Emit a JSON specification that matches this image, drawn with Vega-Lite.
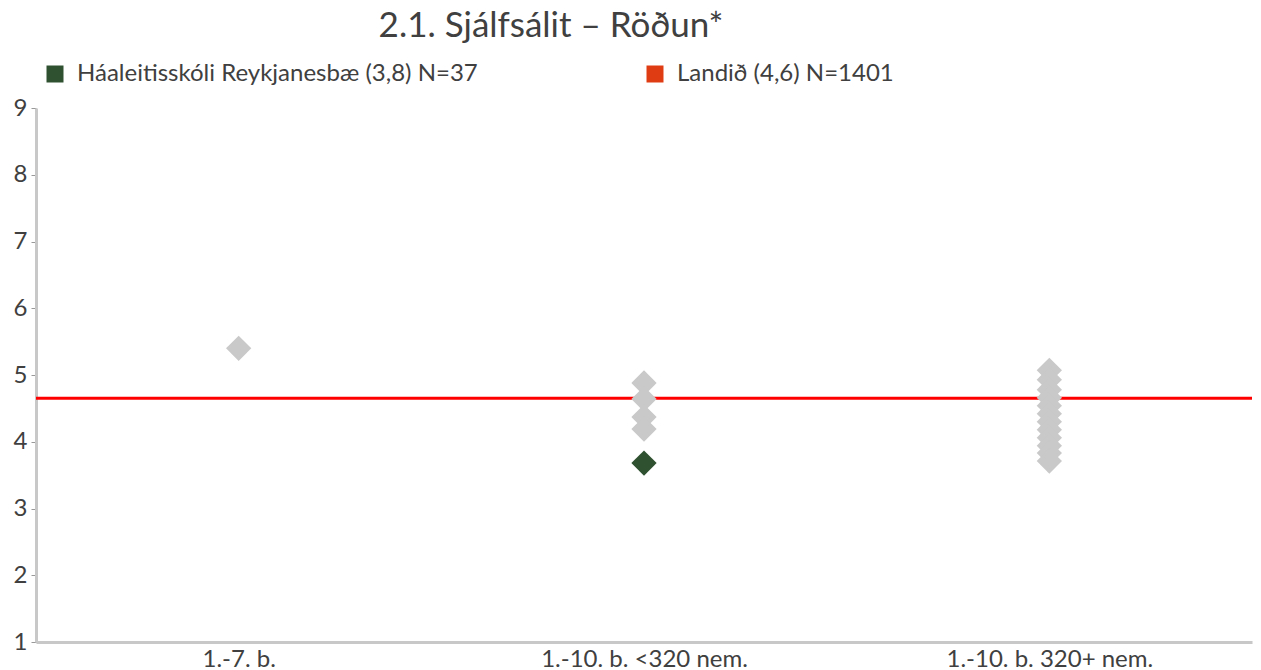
{
  "$schema": "https://vega.github.io/schema/vega-lite/v6.json",
  "autosize": {"type": "none"},
  "width": 1216,
  "height": 534,
  "padding": {"left": 36, "top": 108, "right": 9, "bottom": 28},
  "background": "white",
  "config": {
    "font": "Lato",
    "view": {"stroke": null}
  },
  "title": {
    "text": "2.1. Sjálfsálit – Röðun*",
    "fontSize": 35,
    "fontWeight": "normal",
    "color": "#404040",
    "anchor": "middle",
    "dx": -93,
    "offset": -10,
    "baseline": "alphabetic"
  },
  "datasets": {
    "points": [
      {"flokkur": "1.-7. b.", "gildi": 5.40, "hopur": "annar"},
      {"flokkur": "1.-10. b. <320 nem.", "gildi": 4.88, "hopur": "annar"},
      {"flokkur": "1.-10. b. <320 nem.", "gildi": 4.64, "hopur": "annar"},
      {"flokkur": "1.-10. b. <320 nem.", "gildi": 4.37, "hopur": "annar"},
      {"flokkur": "1.-10. b. <320 nem.", "gildi": 4.19, "hopur": "annar"},
      {"flokkur": "1.-10. b. 320+ nem.", "gildi": 5.07, "hopur": "annar"},
      {"flokkur": "1.-10. b. 320+ nem.", "gildi": 4.93, "hopur": "annar"},
      {"flokkur": "1.-10. b. 320+ nem.", "gildi": 4.78, "hopur": "annar"},
      {"flokkur": "1.-10. b. 320+ nem.", "gildi": 4.66, "hopur": "annar"},
      {"flokkur": "1.-10. b. 320+ nem.", "gildi": 4.54, "hopur": "annar"},
      {"flokkur": "1.-10. b. 320+ nem.", "gildi": 4.42, "hopur": "annar"},
      {"flokkur": "1.-10. b. 320+ nem.", "gildi": 4.30, "hopur": "annar"},
      {"flokkur": "1.-10. b. 320+ nem.", "gildi": 4.18, "hopur": "annar"},
      {"flokkur": "1.-10. b. 320+ nem.", "gildi": 4.06, "hopur": "annar"},
      {"flokkur": "1.-10. b. 320+ nem.", "gildi": 3.94, "hopur": "annar"},
      {"flokkur": "1.-10. b. 320+ nem.", "gildi": 3.83, "hopur": "annar"},
      {"flokkur": "1.-10. b. 320+ nem.", "gildi": 3.71, "hopur": "annar"},
      {"flokkur": "1.-10. b. <320 nem.", "gildi": 3.68, "hopur": "Háaleitisskóli Reykjanesbæ (3,8) N=37"}
    ],
    "landid": [
      {"gildi": 4.65, "hopur": "Landið (4,6) N=1401"}
    ]
  },
  "layer": [
    {
      "data": {"name": "landid"},
      "mark": {"type": "rule", "color": "#ff0000", "strokeWidth": 3},
      "encoding": {
        "y": {"field": "gildi", "type": "quantitative"}
      }
    },
    {
      "data": {"name": "points"},
      "transform": [{"filter": "datum.hopur === 'annar'"}],
      "mark": {"type": "point", "shape": "diamond", "filled": true, "size": 640, "color": "#c9c9c9", "opacity": 1},
      "encoding": {
        "x": {
          "field": "flokkur", "type": "nominal",
          "sort": ["1.-7. b.", "1.-10. b. <320 nem.", "1.-10. b. 320+ nem."],
          "scale": {"domain": ["1.-7. b.", "1.-10. b. <320 nem.", "1.-10. b. 320+ nem."]},
          "axis": {
            "title": null, "labelAngle": 0, "labelFontSize": 24, "labelColor": "#404040",
            "labelPadding": 5, "ticks": false, "domainColor": "#c8c8c8", "domainWidth": 3,
            "grid": false, "labelLimit": 400
          }
        },
        "y": {
          "field": "gildi", "type": "quantitative",
          "scale": {"domain": [1, 9], "nice": false, "zero": false},
          "axis": {
            "title": null, "values": [1, 2, 3, 4, 5, 6, 7, 8, 9], "format": "d", "labelFontSize": 24,
            "labelColor": "#404040", "grid": false, "domainColor": "#c8c8c8", "domainWidth": 3,
            "tickColor": "#999999", "tickSize": 5, "tickWidth": 1, "labelPadding": 4
          }
        }
      }
    },
    {
      "data": {"name": "points"},
      "transform": [{"filter": "datum.hopur !== 'annar'"}],
      "mark": {"type": "point", "shape": "diamond", "filled": true, "size": 640, "opacity": 1},
      "encoding": {
        "x": {"field": "flokkur", "type": "nominal"},
        "y": {"field": "gildi", "type": "quantitative"},
        "color": {
          "field": "hopur", "type": "nominal",
          "scale": {
            "domain": ["Háaleitisskóli Reykjanesbæ (3,8) N=37", "Landið (4,6) N=1401"],
            "range": ["#2f5130", "#e03c14"]
          },
          "legend": {
            "title": null, "orient": "none", "legendX": 7, "legendY": -46,
            "direction": "horizontal", "columns": 2, "columnPadding": 165,
            "symbolType": "square", "symbolSize": 289, "symbolOpacity": 1,
            "labelFontSize": 24, "labelColor": "#404040", "labelOffset": 10,
            "labelLimit": 600
          }
        }
      }
    }
  ]
}
